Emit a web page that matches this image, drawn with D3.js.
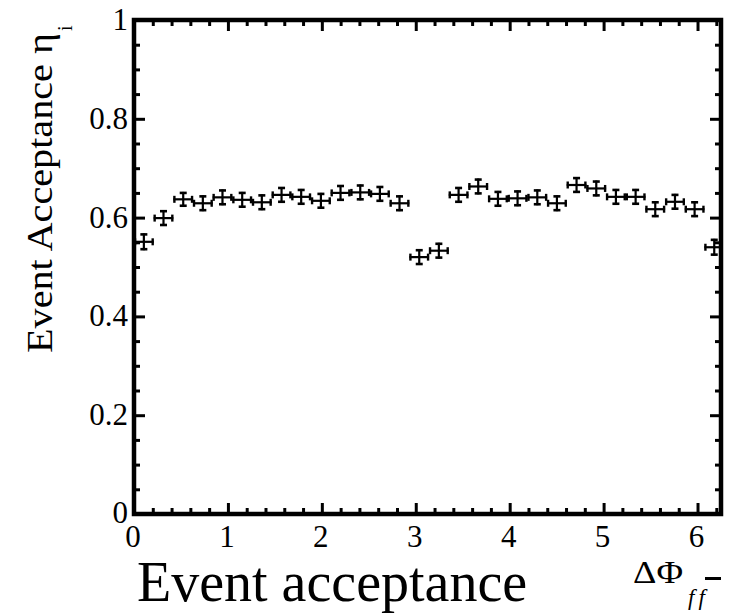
<!DOCTYPE html>
<html>
<head>
<meta charset="utf-8">
<script src="https://cdn.jsdelivr.net/npm/d3@7"></script>
<style>
  html, body { margin: 0; padding: 0; background: #fff; }
  svg { display: block; }
</style>
</head>
<body>
<svg id="chart" width="739" height="614"></svg>
<script>
// Bin centres in ΔΦ (30 bins spanning 0..2π)
const binCenters = [0.105, 0.314, 0.524, 0.733, 0.942, 1.152, 1.361, 1.571, 1.780, 1.990,
                    2.199, 2.409, 2.618, 2.827, 3.037, 3.246, 3.456, 3.665, 3.875, 4.084,
                    4.294, 4.503, 4.712, 4.922, 5.131, 5.341, 5.550, 5.760, 5.969, 6.178];
const binHalfWidth = 0.1047;
// Acceptance per bin
const acceptance = [0.551, 0.599, 0.637, 0.629, 0.641, 0.636, 0.631, 0.646, 0.642, 0.634,
                    0.650, 0.651, 0.648, 0.629, 0.520, 0.533, 0.646, 0.663, 0.638, 0.639,
                    0.641, 0.629, 0.666, 0.659, 0.642, 0.642, 0.617, 0.632, 0.617, 0.540];
// Statistical uncertainty per bin
const acceptanceErr = [0.017, 0.016, 0.015, 0.016, 0.016, 0.016, 0.016, 0.016, 0.016, 0.016,
                       0.016, 0.016, 0.016, 0.016, 0.016, 0.016, 0.016, 0.016, 0.016, 0.016,
                       0.016, 0.016, 0.016, 0.016, 0.016, 0.016, 0.016, 0.016, 0.016, 0.017];
const xMajorTicks = [0, 1, 2, 3, 4, 5, 6];
const yMajorTicks = [0, 0.2, 0.4, 0.6, 0.8, 1];
const xDomain = [0, 6.25];
const yDomain = [0, 1];

const SERIF = "'Liberation Serif', 'Times New Roman', Times, serif";

const svg = d3.select("#chart").attr("font-family", SERIF);
const pLeft = 134, pRight = 721, pTop = 20, pBottom = 514;

const x = d3.scaleLinear().domain(xDomain).range([pLeft, pRight]);
const y = d3.scaleLinear().domain(yDomain).range([pBottom, pTop]);

const data = binCenters.map((c, i) => ({ c, v: acceptance[i], e: acceptanceErr[i] }));

svg.append("defs").append("clipPath").attr("id", "plotClip")
  .append("rect").attr("x", pLeft).attr("y", pTop).attr("width", pRight - pLeft).attr("height", pBottom - pTop);

// Error-bar markers
const marks = svg.append("g").attr("clip-path", "url(#plotClip)")
  .attr("stroke", "#000").attr("fill", "none");
const capW = 3.5;
const pts = marks.selectAll("g.pt").data(data).join("g").attr("class", "pt");
pts.append("line")
  .attr("x1", d => x(d.c - binHalfWidth)).attr("x2", d => x(d.c + binHalfWidth))
  .attr("y1", d => y(d.v)).attr("y2", d => y(d.v)).attr("stroke-width", 2.2);
pts.append("line")
  .attr("x1", d => x(d.c)).attr("x2", d => x(d.c))
  .attr("y1", d => y(d.v - d.e)).attr("y2", d => y(d.v + d.e)).attr("stroke-width", 2.2);
// caps on the horizontal bar ends
pts.append("line")
  .attr("x1", d => x(d.c - binHalfWidth) + 1).attr("x2", d => x(d.c - binHalfWidth) + 1)
  .attr("y1", d => y(d.v) - capW).attr("y2", d => y(d.v) + capW).attr("stroke-width", 2.4);
pts.append("line")
  .attr("x1", d => x(d.c + binHalfWidth) - 1).attr("x2", d => x(d.c + binHalfWidth) - 1)
  .attr("y1", d => y(d.v) - capW).attr("y2", d => y(d.v) + capW).attr("stroke-width", 2.4);
// caps on the vertical bar ends
pts.append("line")
  .attr("x1", d => x(d.c) - capW).attr("x2", d => x(d.c) + capW)
  .attr("y1", d => y(d.v + d.e) + 1).attr("y2", d => y(d.v + d.e) + 1).attr("stroke-width", 2.6);
pts.append("line")
  .attr("x1", d => x(d.c) - capW).attr("x2", d => x(d.c) + capW)
  .attr("y1", d => y(d.v - d.e) - 1).attr("y2", d => y(d.v - d.e) - 1).attr("stroke-width", 2.6);

// Inward ticks on all four sides
const xMinor = d3.range(0, 6.25, 0.2).map(v => +v.toFixed(2)).filter(v => !xMajorTicks.includes(v));
const yMinor = d3.range(0, 1.0001, 0.05).map(v => +v.toFixed(2)).filter(v => !yMajorTicks.includes(v));
const majorLen = 11, minorLen = 6;

function drawAxis(axis, scale, ticks, len, tx, ty) {
  svg.append("g").attr("transform", `translate(${tx},${ty})`)
    .call(axis(scale).tickValues(ticks).tickSizeInner(len).tickSizeOuter(0).tickFormat(""))
    .call(g => g.select(".domain").remove())
    .call(g => g.selectAll(".tick line").attr("stroke", "#000").attr("stroke-width", 3));
}
// bottom & top
drawAxis(d3.axisTop, x, xMajorTicks, majorLen, 0, pBottom);
drawAxis(d3.axisTop, x, xMinor, minorLen, 0, pBottom);
drawAxis(d3.axisBottom, x, xMajorTicks, majorLen, 0, pTop);
drawAxis(d3.axisBottom, x, xMinor, minorLen, 0, pTop);
// left & right
drawAxis(d3.axisRight, y, yMajorTicks, majorLen, pLeft, 0);
drawAxis(d3.axisRight, y, yMinor, minorLen, pLeft, 0);
drawAxis(d3.axisLeft, y, yMajorTicks, majorLen, pRight, 0);
drawAxis(d3.axisLeft, y, yMinor, minorLen, pRight, 0);

// Frame
svg.append("rect").attr("x", pLeft).attr("y", pTop)
  .attr("width", pRight - pLeft).attr("height", pBottom - pTop)
  .attr("fill", "none").attr("stroke", "#000").attr("stroke-width", 4.5);

// Text layer
const txt = svg.append("g").attr("font-family", SERIF).attr("fill", "#000");

// Tick labels
txt.append("g").selectAll("text").data(xMajorTicks).join("text")
  .attr("font-family", SERIF)
  .attr("x", d => x(d) - 1).attr("y", 547)
  .attr("text-anchor", "middle").attr("font-size", 31)
  .text(d => d);
txt.append("g").selectAll("text").data(yMajorTicks).join("text")
  .attr("font-family", SERIF)
  .attr("x", 128).attr("y", d => Math.min(y(d) + 10, 523))
  .attr("text-anchor", "end").attr("font-size", 31)
  .text(d => d3.format("~g")(d));

// Y-axis title
const yTitle = txt.append("g").attr("transform", "translate(52,353) rotate(-90)");
yTitle.append("text").attr("font-family", SERIF).attr("x", 0).attr("y", 0).attr("font-size", 36)
  .attr("textLength", 320).attr("lengthAdjust", "spacingAndGlyphs")
  .text("Event Acceptance η");
yTitle.append("text").attr("font-family", SERIF).attr("x", 322).attr("y", 20).attr("font-size", 20).text("i");

// X-axis title
txt.append("text").attr("font-family", SERIF).attr("x", 137).attr("y", 601).attr("font-size", 56)
  .text("Event acceptance");
txt.append("text").attr("font-family", SERIF).attr("x", 633).attr("y", 583).attr("font-size", 31)
  .attr("textLength", 50).attr("lengthAdjust", "spacingAndGlyphs").text("ΔΦ");
txt.append("text").attr("font-family", SERIF).attr("x", 688).attr("y", 605).attr("font-size", 23)
  .attr("font-style", "italic").attr("letter-spacing", 4).text("ff");
txt.append("line").attr("x1", 705).attr("x2", 721).attr("y1", 578.5).attr("y2", 578.5)
  .attr("stroke", "#000").attr("stroke-width", 3);
</script>
</body>
</html>
